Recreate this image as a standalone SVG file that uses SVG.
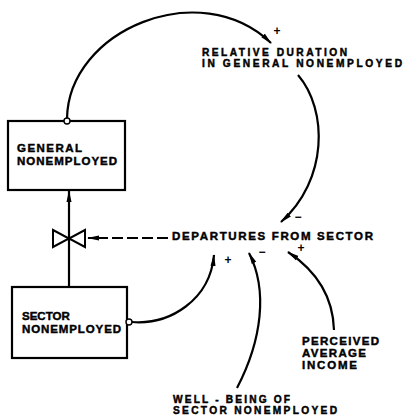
<svg xmlns="http://www.w3.org/2000/svg" width="404" height="417" viewBox="0 0 404 417">
  <style>
    .lbl { font-family: "Liberation Sans", Arial, sans-serif; font-weight: bold; font-size: 11.5px; fill: #000; stroke: #000; stroke-width: 0.45; }
    .sm { font-size: 10.2px; }
    .sign { font-family: "Liberation Sans", Arial, sans-serif; font-weight: bold; font-size: 12px; fill: #000; text-anchor: middle; }
    .box { fill: #fff; stroke: #000; stroke-width: 2.2; }
    .link { fill: none; stroke: #000; stroke-width: 2.2; }
    .tap { fill: #fff; stroke: #000; stroke-width: 1.4; }
  </style>
  <defs>
    <marker id="head" viewBox="0 0 12 6" refX="11" refY="3" markerWidth="12" markerHeight="6" markerUnits="userSpaceOnUse" orient="auto">
      <path d="M0,0.5 L12,3 L0,5.5 Z" fill="#000"/>
    </marker>
  </defs>

  <rect width="404" height="417" fill="#fff"/>

  <!-- connectors -->
  <g id="connectors">
    <!-- level to rate: general nonemployed to relative duration -->
    <path class="link" d="M67,119 C68,30 200,-25 271,43" marker-end="url(#head)"/>
    <!-- relative duration to departures -->
    <path class="link" d="M298,75 C328,110 328,180 281,222" marker-end="url(#head)"/>
    <!-- sector nonemployed to departures -->
    <path class="link" d="M132,322 C170,325 210,300 214,255" marker-end="url(#head)"/>
    <!-- well-being to departures -->
    <path class="link" d="M237,388 C262,340 268,290 249,253" marker-end="url(#head)"/>
    <!-- perceived income to departures -->
    <path class="link" d="M334,330 C333,295 315,270 288,252" marker-end="url(#head)"/>
    <!-- information link from rate to valve -->
    <path class="link" d="M168,238 L88,238" stroke-dasharray="11,4" marker-end="url(#head)"/>
    <!-- flow pipe -->
    <path class="link" d="M69,287 L69,191" stroke-width="2.6" marker-end="url(#head)"/>
  </g>

  <!-- flow valve -->
  <g id="valve">
    <path d="M53,230 L69,238.5 L53,247 Z M85,230 L69,238.5 L85,247 Z" fill="#fff" stroke="#000" stroke-width="2" stroke-linejoin="miter"/>
  </g>

  <g id="general-nonemployed">
    <rect class="box" x="8" y="121" width="117" height="69"/>
    <circle class="tap" cx="67" cy="121" r="3"/>
    <text class="lbl" x="17" y="152" textLength="65" lengthAdjust="spacing">GENERAL</text>
    <text class="lbl" x="17" y="165" textLength="100" lengthAdjust="spacing">NONEMPLOYED</text>
  </g>

  <g id="sector-nonemployed">
    <rect class="box" x="12" y="287" width="115" height="71"/>
    <circle class="tap" cx="129" cy="322" r="3"/>
    <text class="lbl" x="22" y="320">SECTOR</text>
    <text class="lbl" x="22" y="333" textLength="99" lengthAdjust="spacing">NONEMPLOYED</text>
  </g>

  <g id="relative-duration">
    <text class="lbl sm" x="202" y="55.5" textLength="145" lengthAdjust="spacing">RELATIVE DURATION</text>
    <text class="lbl sm" x="202" y="66.5" textLength="200" lengthAdjust="spacing">IN GENERAL NONEMPLOYED</text>
  </g>

  <g id="departures">
    <text class="lbl" x="172" y="240" textLength="201" lengthAdjust="spacing">DEPARTURES FROM SECTOR</text>
  </g>

  <g id="perceived-income">
    <text class="lbl" x="302" y="345" textLength="77" lengthAdjust="spacing">PERCEIVED</text>
    <text class="lbl" x="302" y="357" textLength="64" lengthAdjust="spacing">AVERAGE</text>
    <text class="lbl" x="302" y="369" textLength="55" lengthAdjust="spacing">INCOME</text>
  </g>

  <g id="well-being">
    <text class="lbl sm" x="173" y="403" textLength="117" lengthAdjust="spacing">WELL - BEING OF</text>
    <text class="lbl sm" x="173" y="414" textLength="164" lengthAdjust="spacing">SECTOR NONEMPLOYED</text>
  </g>

  <!-- polarity signs -->
  <g id="polarities">
    <text class="sign" x="277" y="35">+</text>
    <text class="sign" x="298" y="221">−</text>
    <text class="sign" x="228" y="264">+</text>
    <text class="sign" x="262" y="256">−</text>
    <text class="sign" x="301" y="252">+</text>
  </g>
</svg>
